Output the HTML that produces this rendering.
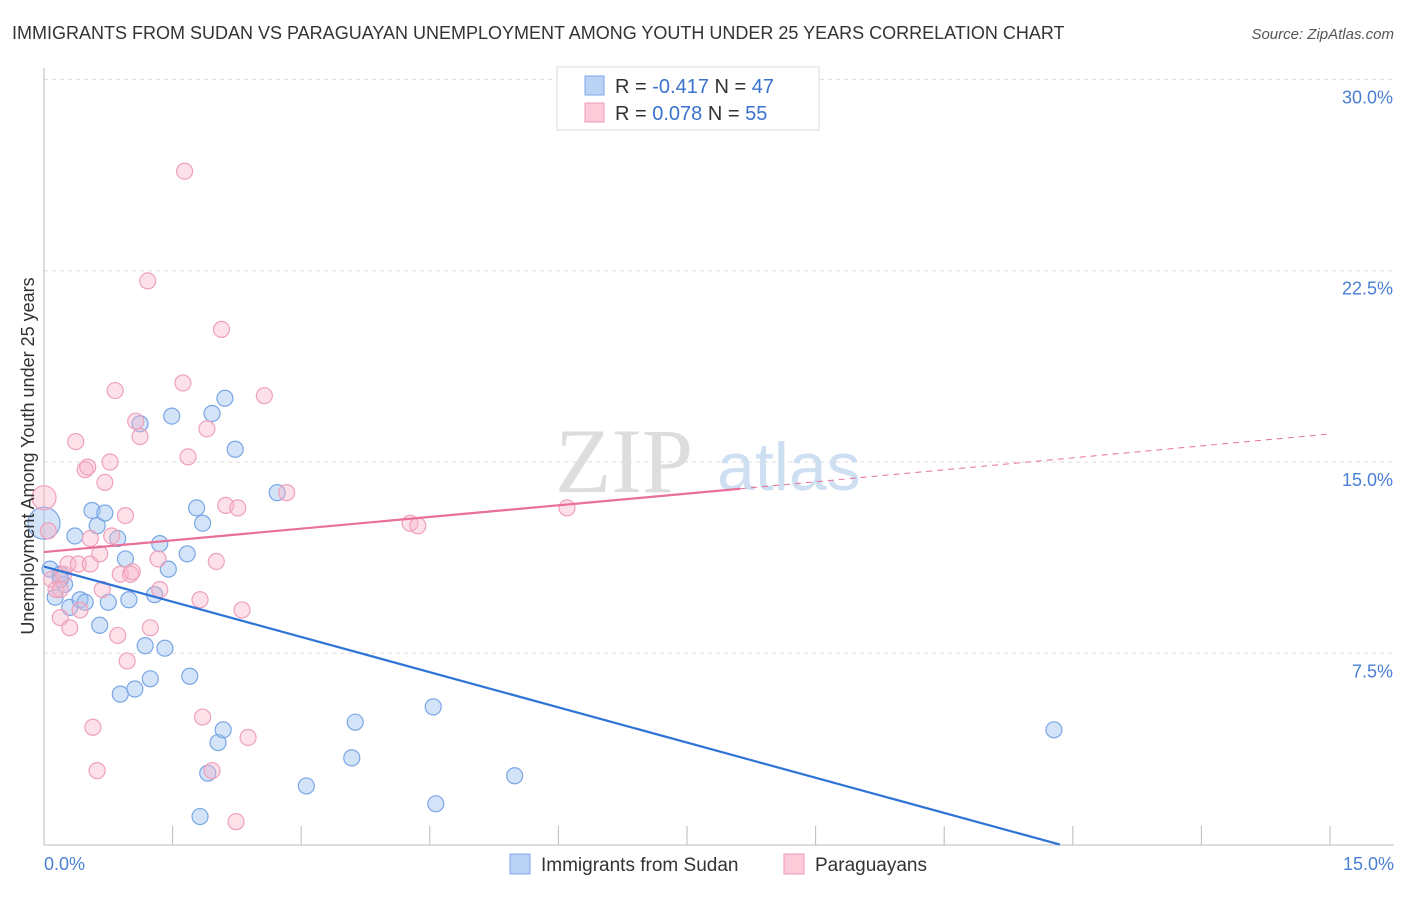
<!DOCTYPE html>
<html><head><meta charset="utf-8"><style>
body{margin:0;background:#fff;font-family:"Liberation Sans",sans-serif}
</style></head><body>
<svg id="chart" width="1406" height="892" xmlns="http://www.w3.org/2000/svg" font-family="Liberation Sans, sans-serif">
<text x="12" y="39" font-size="18" fill="#333">IMMIGRANTS FROM SUDAN VS PARAGUAYAN UNEMPLOYMENT AMONG YOUTH UNDER 25 YEARS CORRELATION CHART</text>
<text x="1394" y="39" font-size="15" fill="#555" font-style="italic" text-anchor="end">Source: ZipAtlas.com</text>
<g id="grid"></g>
<text x="555" y="492" font-size="92" fill="#ddd" font-family="Liberation Serif, serif">ZIP</text>
<text x="717" y="490" font-size="68" fill="#cfdff2">atlas</text>
<g id="marks"></g>
<text transform="translate(34,456) rotate(-90)" font-size="18" fill="#333" text-anchor="middle">Unemployment Among Youth under 25 years</text>
<text x="44" y="870" font-size="18" fill="#4a7fd4">0.0%</text>
<text x="1394" y="870" font-size="18" fill="#4a7fd4" text-anchor="end">15.0%</text>
<g>
<rect x="557" y="67" width="262" height="63" fill="#fff" stroke="#ddd"/>
<rect x="585" y="76" width="19" height="19" fill="#b9d3f5" stroke="#7aa6e6"/>
<rect x="585" y="103" width="19" height="19" fill="#fbcbd9" stroke="#f09ab6"/>
<text x="615" y="93" font-size="20" fill="#333">R = <tspan fill="#3a72d0">-0.417</tspan>   N = <tspan fill="#3a72d0">47</tspan></text>
<text x="615" y="120" font-size="20" fill="#333">R =  <tspan fill="#3a72d0">0.078</tspan>   N = <tspan fill="#3a72d0">55</tspan></text>
</g>
<g>
<rect x="510" y="854" width="20" height="20" fill="#b9d3f5" stroke="#7aa6e6"/>
<text x="541" y="871" font-size="19" fill="#333">Immigrants from Sudan</text>
<rect x="784" y="854" width="20" height="20" fill="#fbcbd9" stroke="#f09ab6"/>
<text x="815" y="871" font-size="19" fill="#333">Paraguayans</text>
</g>
</svg>
<script>
const yTicks=[7.5,15,22.5,30];
const yTickLabels=["7.5%","15.0%","22.5%","30.0%"];
const blueX=[0.0,0.07,0.13,0.19,0.24,0.3,0.36,0.42,0.48,0.56,0.62,0.65,0.71,0.75,0.86,0.89,0.95,0.99,1.06,1.12,1.18,1.24,1.29,1.35,1.41,1.45,1.49,1.67,1.70,1.78,1.82,1.85,1.91,1.96,2.03,2.09,2.11,2.23,2.72,3.06,3.59,3.63,4.54,4.57,5.49,11.78,0.19];
const blueY=[12.6,10.8,9.7,10.6,10.2,9.3,12.1,9.6,9.5,13.1,12.5,8.6,13.0,9.5,12.0,5.9,11.2,9.6,6.1,16.5,7.8,6.5,9.8,11.8,7.7,10.8,16.8,11.4,6.6,13.2,1.1,12.6,2.8,16.9,4.0,4.5,17.5,15.5,13.8,2.3,3.4,4.8,5.4,1.6,2.7,4.5,10.4];
const pinkX=[0.0,0.05,0.09,0.14,0.19,0.23,0.28,0.3,0.37,0.4,0.42,0.48,0.51,0.54,0.57,0.62,0.68,0.71,0.77,0.79,0.83,0.86,0.89,0.95,0.97,1.01,1.03,1.07,1.12,1.21,1.24,1.33,1.35,1.62,1.64,1.68,1.82,1.85,1.9,1.96,2.01,2.07,2.12,2.24,2.26,2.31,2.38,2.57,2.83,4.27,4.36,6.10,0.54,0.65,0.19];
const pinkY=[13.6,12.3,10.4,10.0,8.9,10.6,11.0,8.5,15.8,11.0,9.2,14.7,14.8,12.0,4.6,2.9,10.0,14.2,15.0,12.1,17.8,8.2,10.6,12.9,7.2,10.6,10.7,16.6,16.0,22.1,8.5,11.2,10.0,18.1,26.4,15.2,9.6,5.0,16.3,2.9,11.1,20.2,13.3,0.9,13.2,9.2,4.2,17.6,13.8,12.6,12.5,13.2,11.0,11.4,10.0];
const X=v=>44+v/15*1286, Y=v=>844.6-v/7.5*191.3;
const NS="http://www.w3.org/2000/svg";
const grid=document.getElementById('grid'), marks=document.getElementById('marks'), svg=document.getElementById('chart');
function mk(tag,attrs,parent){const e=document.createElementNS(NS,tag);for(const k in attrs)e.setAttribute(k,attrs[k]);parent.appendChild(e);return e;}
yTicks.forEach((t,i)=>{
 const l=mk('line',{x1:44,x2:1394,y1:Y(t),y2:Y(t),stroke:'#ddd','stroke-dasharray':'4,4'},grid);
 
 
 const tx=mk('text',{x:1393,y:Y(t)+24,'font-size':18,fill:'#4a7fd4','text-anchor':'end'},svg);
 tx.textContent=yTickLabels[i];
 
 
});
const ax=mk('line',{x1:44,x2:44,y1:68,y2:845,stroke:'#bbb'},grid);


const bx=mk('line',{x1:44,x2:1394,y1:845,y2:845,stroke:'#bbb'},grid);


for(let i=0;i<=10;i++){const t=mk('line',{x1:X(i*1.5),x2:X(i*1.5),y1:826,y2:845,stroke:'#bbb'},grid);
 
 }
blueX.forEach((v,i)=>{const c=mk('circle',{cx:X(v),cy:Y(blueY[i]),r:i==0?16:8,fill:'rgba(160,195,240,0.45)',stroke:'#7aa6e6','stroke-width':1.2},marks);
 
 });
pinkX.forEach((v,i)=>{const c=mk('circle',{cx:X(v),cy:Y(pinkY[i]),r:i==0?12:8,fill:'rgba(248,180,200,0.4)',stroke:'#f0a0bb','stroke-width':1.2},marks);
 
 });
const bt=mk('line',{x1:X(0),y1:Y(10.9),x2:X(11.85),y2:Y(0),stroke:'#2f74d6','stroke-width':2.2},marks);


const pt=mk('line',{x1:X(0),y1:Y(11.47),x2:X(8.12),y2:Y(13.95),stroke:'#e8709a','stroke-width':2.2},marks);


const pd=mk('line',{x1:X(8.12),y1:Y(13.95),x2:X(15),y2:Y(16.1),stroke:'#e8709a','stroke-width':1,'stroke-dasharray':'6,5'},marks);


</script>
</body></html>
